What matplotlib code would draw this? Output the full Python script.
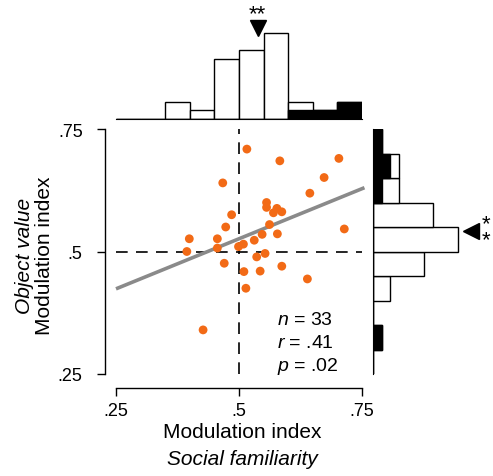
import numpy as np
import matplotlib
matplotlib.use("Agg")
import matplotlib.pyplot as plt

plt.rcParams['font.family'] = ['Liberation Sans', 'DejaVu Sans']
plt.rcParams['mathtext.fontset'] = 'custom'
plt.rcParams['mathtext.rm'] = 'Liberation Sans'
plt.rcParams['mathtext.it'] = 'Liberation Sans:italic'

# scatter data (social familiarity MI, object value MI)
social_mi = [0.516, 0.583, 0.703, 0.673, 0.467, 0.644, 0.556, 0.556, 0.577, 0.570,
             0.587, 0.485, 0.562, 0.473, 0.714, 0.399, 0.456, 0.547, 0.578, 0.531,
             0.509, 0.499, 0.394, 0.456, 0.536, 0.553, 0.470, 0.587, 0.510, 0.543,
             0.639, 0.514, 0.427]
object_mi = [0.709, 0.685, 0.690, 0.651, 0.640, 0.619, 0.600, 0.590, 0.588, 0.579,
             0.581, 0.575, 0.555, 0.550, 0.546, 0.526, 0.526, 0.535, 0.536, 0.523,
             0.515, 0.510, 0.500, 0.507, 0.489, 0.496, 0.476, 0.470, 0.459, 0.460,
             0.444, 0.425, 0.340]

# histograms (bin edges .25 to .75 step .05)
bin_edges = [0.25, 0.30, 0.35, 0.40, 0.45, 0.50, 0.55, 0.60, 0.65, 0.70, 0.75]
top_total = [0, 0, 2, 1, 7, 8, 10, 2, 1, 2]
top_sig = [0, 0, 0, 0, 0, 0, 0, 1, 1, 2]
right_total = [0, 1, 0, 2, 6, 10, 7, 3, 3, 1]
right_sig = [0, 1, 0, 0, 0, 0, 0, 1, 2, 1]
top_mean = 0.538
right_mean = 0.542

ticks = [0.25, 0.5, 0.75]
tick_labels = ['.25', '.5', '.75']
stats_lines = [r'$n$ = 33', r'$r$ = .41', r'$p$ = .02']

W, H = 493, 477
fig = plt.figure(figsize=(W / 100, H / 100), dpi=100)

def px_axes(x0, y0, x1, y1):
    return fig.add_axes([x0 / W, (H - y1) / H, (x1 - x0) / W, (y1 - y0) / H])

orange = '#f26a16'

# main axes
ax = px_axes(116, 130, 362, 375)
ax.set_xlim(0.25, 0.75)
ax.set_ylim(0.25, 0.75)
ax.axvline(0.5, color='black', lw=1.2, ls=(0, (7, 5)), zorder=1)
ax.axhline(0.5, color='black', lw=1.2, ls=(0, (7, 5)), zorder=1)
ax.scatter(social_mi, object_mi, s=40, color=orange, edgecolors='none', zorder=3)
slope, intercept = np.polyfit(social_mi, object_mi, 1)
xs = np.array([0.25, 0.755])
ax.plot(xs, slope * xs + intercept, color='#8a8a8a', lw=2.6, zorder=2, clip_on=False,
        solid_capstyle='butt')
for i, s in enumerate(stats_lines):
    ax.text(0.654, 0.224 - i * 0.094, s, transform=ax.transAxes, fontsize=14,
            ha='left', va='center')
for side in ['top', 'right']:
    ax.spines[side].set_visible(False)
ax.spines['left'].set_position(('outward', 8))
ax.spines['bottom'].set_position(('outward', 10))
ax.set_xticks(ticks)
ax.set_xticklabels(tick_labels)
ax.set_yticks(ticks)
ax.set_yticklabels(tick_labels)
ax.tick_params(labelsize=13, length=6, width=1, pad=4)
ax.tick_params(axis='y', pad=10)
for sp in ax.spines.values():
    sp.set_linewidth(1)

fig.text(242 / W, 1 - 433 / H, 'Modulation index', fontsize=15, ha='center', va='center')
fig.text(242 / W, 1 - 460 / H, 'Social familiarity', fontsize=15, ha='center', va='center',
         style='italic')
fig.text(25 / W, 1 - 256 / H, 'Object value', fontsize=15, ha='center', va='center',
         rotation=90, style='italic')
fig.text(45 / W, 1 - 256 / H, 'Modulation index', fontsize=15, ha='center', va='center',
         rotation=90)

# top histogram
axt = px_axes(116, 17, 362, 120)
axt.set_xlim(0.25, 0.75)
axt.set_ylim(0, 12)
lefts = bin_edges[:-1]
axt.bar(lefts, top_total, width=0.05, align='edge', color='white', edgecolor='black', lw=1)
axt.bar(lefts, top_sig, width=0.05, align='edge', color='black', edgecolor='black', lw=1)
axt.plot([top_mean], [10.6], marker='v', color='black', ms=11, clip_on=False)
axt.text(top_mean, 12.3, '**', ha='center', va='center', fontsize=16, clip_on=False)
for side in ['top', 'right', 'left']:
    axt.spines[side].set_visible(False)
axt.set_xticks([])
axt.set_yticks([])

# right histogram
axr = px_axes(373, 130, 475, 375)
axr.set_ylim(0.25, 0.75)
axr.set_xlim(0, 12)
axr.barh(lefts, right_total, height=0.05, align='edge', color='white', edgecolor='black', lw=1)
axr.barh(lefts, right_sig, height=0.05, align='edge', color='black', edgecolor='black', lw=1)
axr.plot([11.5], [right_mean], marker='<', color='black', ms=11, clip_on=False)
axr.text(13.3, right_mean - 0.002, '*\n*', ha='center', va='center', fontsize=16,
         linespacing=0.7, clip_on=False)
for side in ['top', 'right', 'bottom']:
    axr.spines[side].set_visible(False)
axr.set_xticks([])
axr.set_yticks([])

fig.savefig('out.png', dpi=100)
